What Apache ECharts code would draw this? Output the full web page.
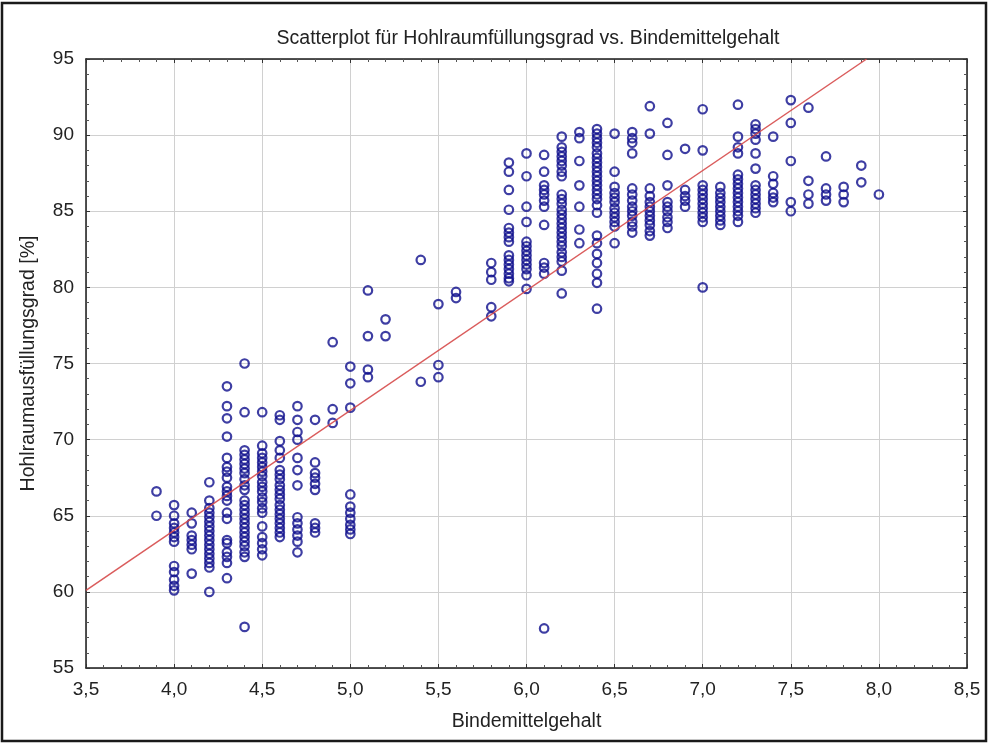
<!DOCTYPE html>
<html>
<head>
<meta charset="utf-8">
<script src="https://cdn.jsdelivr.net/npm/echarts@6/dist/echarts.min.js"></script>
<style>
  html, body { margin: 0; padding: 0; background: #ffffff; }
  #chart { width: 989px; height: 743px; }
</style>
</head>
<body>
<div id="chart"></div>
<script>
// Binder content levels (x) and the measured void fill values at each level (y)
const binderLevels = [3.9, 4.0, 4.1, 4.2, 4.3, 4.4, 4.5, 4.6, 4.7, 4.8, 4.9, 5.0, 5.1, 5.2, 5.4, 5.5, 5.6, 5.8, 5.9, 6.0,
  6.1, 6.2, 6.3, 6.4, 6.5, 6.6, 6.7, 6.8, 6.9, 7.0, 7.1, 7.2, 7.3, 7.4, 7.5, 7.6, 7.7, 7.8, 7.9, 8.0];

const fillAt39 = [66.6, 65.0];
const fillAt40 = [65.7, 65.0, 64.5, 64.2, 63.9, 63.6, 63.3, 61.7, 61.3, 60.8, 60.4, 60.1];
const fillAt41 = [65.2, 64.5, 63.7, 63.4, 63.1, 62.8, 61.2];
const fillAt42 = [67.2, 66.0, 65.5, 65.2, 64.9, 64.6, 64.3, 64.0, 63.7, 63.4, 63.1, 62.8, 62.5, 62.2, 61.9, 61.6, 60.0];
const fillAt43 = [73.5, 72.2, 71.4, 70.2, 68.8, 68.2, 67.9, 67.5, 66.9, 66.6, 66.3, 66.0, 65.2, 64.8, 63.4, 63.2, 62.6, 62.3, 61.9, 60.9];
const fillAt44 = [75.0, 71.8, 69.3, 69.0, 68.7, 68.4, 68.1, 67.8, 67.4, 67.0, 66.7, 66.0, 65.7, 65.4, 65.1, 64.8, 64.5, 64.2, 63.9, 63.6, 63.3, 63.0, 62.6, 62.3, 57.7];
const fillAt45 = [71.8, 69.6, 69.1, 68.8, 68.5, 68.2, 67.9, 67.6, 67.2, 66.9, 66.6, 66.2, 65.9, 65.5, 65.2, 64.3, 63.6, 63.2, 62.8, 62.4];
const fillAt46 = [71.6, 71.3, 69.9, 69.3, 68.8, 68.0, 67.7, 67.4, 67.0, 66.7, 66.4, 66.1, 65.7, 65.4, 65.1, 64.8, 64.5, 64.2, 63.9, 63.6];
const fillAt47 = [72.2, 71.3, 70.5, 70.0, 68.8, 68.0, 67.0, 64.9, 64.5, 64.1, 63.7, 63.3, 62.6];
const fillAt48 = [71.3, 68.5, 67.8, 67.5, 67.1, 66.7, 64.5, 64.2, 63.9];
const fillAt49 = [76.4, 72.0, 71.1];
const fillAt50 = [74.8, 73.7, 72.1, 66.4, 65.6, 65.2, 64.8, 64.4, 64.1, 63.8];
const fillAt51 = [79.8, 76.8, 74.6, 74.1];
const fillAt52 = [77.9, 76.8];
const fillAt54 = [81.8, 73.8];
const fillAt55 = [78.9, 74.9, 74.1];
const fillAt56 = [79.7, 79.3];
const fillAt58 = [81.6, 81.0, 80.5, 78.7, 78.1];
const fillAt59 = [88.2, 87.6, 86.4, 85.1, 83.9, 83.6, 83.3, 83.0, 82.1, 81.8, 81.5, 81.2, 80.9, 80.6, 80.4];
const fillAt60 = [88.8, 87.3, 85.3, 84.3, 83.0, 82.7, 82.4, 82.1, 81.8, 81.5, 81.2, 80.8, 79.9];
const fillAt61 = [88.7, 87.6, 86.7, 86.4, 86.1, 85.7, 85.3, 84.1, 81.6, 81.3, 80.9, 57.6];
const fillAt62 = [89.9, 89.2, 88.9, 88.6, 88.3, 88.0, 87.6, 87.3, 86.1, 85.8, 85.5, 85.1, 84.8, 84.5, 84.2, 83.9, 83.6, 83.3, 83.0, 82.7, 82.3, 82.0, 81.7, 81.1, 79.6];
const fillAt63 = [90.2, 89.8, 88.3, 86.7, 85.3, 83.8, 82.9];
const fillAt64 = [90.4, 90.1, 89.8, 89.5, 89.2, 88.8, 88.5, 88.2, 87.9, 87.6, 87.3, 87.0, 86.7, 86.4, 86.1, 85.8, 85.4, 84.9, 83.4, 82.9, 82.2, 81.6, 80.9, 80.3, 78.6];
const fillAt65 = [90.1, 87.6, 86.6, 86.2, 85.9, 85.6, 85.2, 84.9, 84.6, 84.3, 84.0, 82.9];
const fillAt66 = [90.2, 89.8, 89.5, 88.8, 86.5, 86.1, 85.7, 85.3, 85.0, 84.7, 84.3, 84.0, 83.6];
const fillAt67 = [91.9, 90.1, 86.5, 86.0, 85.6, 85.3, 85.0, 84.7, 84.4, 84.1, 83.7, 83.4];
const fillAt68 = [90.8, 88.7, 86.7, 85.6, 85.3, 85.0, 84.6, 84.3, 83.9];
const fillAt69 = [89.1, 86.4, 86.0, 85.7, 85.3];
const fillAt70 = [91.7, 89.0, 86.7, 86.4, 86.1, 85.8, 85.5, 85.2, 84.9, 84.6, 84.3, 80.0];
const fillAt71 = [86.6, 86.2, 85.9, 85.6, 85.3, 85.0, 84.7, 84.4, 84.1];
const fillAt72 = [92.0, 89.9, 89.2, 88.8, 87.4, 87.1, 86.8, 86.5, 86.2, 85.9, 85.6, 85.3, 85.0, 84.7, 84.3];
const fillAt73 = [90.7, 90.4, 90.1, 89.7, 88.8, 87.8, 86.7, 86.4, 86.1, 85.8, 85.5, 85.2, 84.9];
const fillAt74 = [89.9, 87.3, 86.8, 86.2, 85.9, 85.6];
const fillAt75 = [92.3, 90.8, 88.3, 85.6, 85.0];
const fillAt76 = [91.8, 87.0, 86.1, 85.5];
const fillAt77 = [88.6, 86.5, 86.1, 85.7];
const fillAt78 = [86.6, 86.1, 85.6];
const fillAt79 = [88.0, 86.9];
const fillAt80 = [86.1];

const fillColumns = [fillAt39, fillAt40, fillAt41, fillAt42, fillAt43, fillAt44, fillAt45, fillAt46, fillAt47, fillAt48,
  fillAt49, fillAt50, fillAt51, fillAt52, fillAt54, fillAt55, fillAt56, fillAt58, fillAt59, fillAt60,
  fillAt61, fillAt62, fillAt63, fillAt64, fillAt65, fillAt66, fillAt67, fillAt68, fillAt69, fillAt70,
  fillAt71, fillAt72, fillAt73, fillAt74, fillAt75, fillAt76, fillAt77, fillAt78, fillAt79, fillAt80];

// Fitted regression line, given by its two end points
const fitLineX = [3.5, 7.93];
const fitLineY = [60.1, 95.0];

// Axis ranges and tick steps
const xRange = [3.5, 8.5];
const xStep = 0.5;
const yRange = [55, 95];
const yStep = 5;

const points = [];
binderLevels.forEach((x, i) => {
  fillColumns[i].forEach(y => points.push([x, y]));
});
const fitLine = fitLineX.map((x, i) => [x, fitLineY[i]]);

const FONT = 'Liberation Sans, Arial, sans-serif';
const commaDecimal = v => v.toFixed(1).replace('.', ',');

function makeAxis(pos, isX, main) {
  return {
    type: 'value',
    position: pos,
    min: isX ? xRange[0] : yRange[0],
    max: isX ? xRange[1] : yRange[1],
    interval: isX ? xStep : yStep,
    axisLine: { show: true, onZero: false, lineStyle: { color: '#1a1a1a', width: 1.5 } },
    axisTick: { show: true, inside: true, length: 4, lineStyle: { color: '#333', width: 1 } },
    minorTick: { show: true, splitNumber: 5, length: 3, lineStyle: { color: '#555', width: 1 } },
    splitLine: { show: main, lineStyle: { color: '#d0d0d0', width: 1 } },
    axisLabel: {
      show: main,
      color: '#222',
      fontFamily: FONT,
      fontSize: 19,
      margin: isX ? 12 : 12,
      formatter: isX ? commaDecimal : (v => String(v))
    },
    name: main ? (isX ? 'Bindemittelgehalt' : 'Hohlraumausfüllungsgrad [%]') : '',
    nameLocation: 'middle',
    nameGap: isX ? 44 : 47,
    nameTextStyle: { color: '#222', fontFamily: FONT, fontSize: 19.5 }
  };
}

const chart = echarts.init(document.getElementById('chart'), null, { renderer: 'canvas' });
chart.setOption({
  backgroundColor: '#ffffff',
  animation: false,
  title: {
    text: 'Scatterplot für Hohlraumfüllungsgrad vs. Bindemittelgehalt',
    left: 523,
    textAlign: 'center',
    top: 24,
    textStyle: { color: '#222', fontFamily: FONT, fontSize: 19.5, fontWeight: 'normal' }
  },
  grid: { left: 86, right: 22, top: 59, bottom: 75 },
  xAxis: [makeAxis('bottom', true, true), makeAxis('top', true, false)],
  yAxis: [makeAxis('left', false, true), makeAxis('right', false, false)],
  graphic: [{
    type: 'rect',
    shape: { x: 2, y: 3, width: 984, height: 738 },
    style: { fill: 'none', stroke: '#1a1a1a', lineWidth: 2.5 },
    silent: true,
    z: 100
  }],
  series: [
    {
      type: 'scatter',
      data: points,
      symbol: 'circle',
      symbolSize: 8.5,
      itemStyle: { color: 'rgba(0,0,0,0)', borderColor: '#0e0e8c', borderWidth: 2.2 },
      emphasis: { disabled: true },
      z: 3
    },
    {
      type: 'line',
      data: fitLine,
      symbol: 'none',
      lineStyle: { color: '#d64a4a', width: 1.5, opacity: 0.9 },
      emphasis: { disabled: true },
      z: 4
    }
  ]
});
</script>
</body>
</html>
